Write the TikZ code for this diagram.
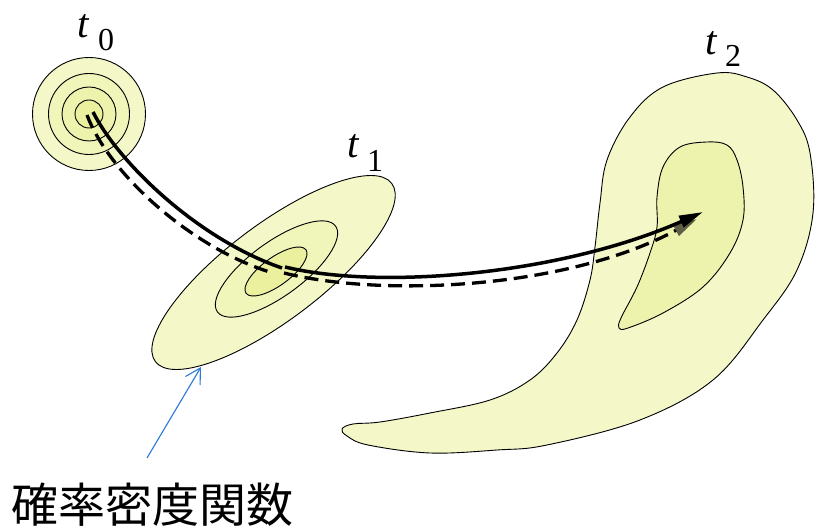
\documentclass[tikz,border=0pt]{standalone}
\usepackage{fontspec}
\setmainfont{Liberation Serif}
\newfontfamily\jpfont{Noto Sans CJK JP}
\usetikzlibrary{arrows.meta}
\definecolor{pdfA}{RGB}{244,247,200}
\definecolor{pdfB}{RGB}{240,245,186}
\definecolor{pdfC}{RGB}{237,243,172}
\definecolor{pdfD}{RGB}{234,240,158}
\definecolor{ptrblue}{RGB}{40,120,215}
\definecolor{shadowgray}{RGB}{95,95,70}
\begin{document}
\begin{tikzpicture}[x=1pt,y=-1pt,
  contour/.style={draw=black, line width=0.9pt},
  tlabel/.style={font=\fontsize{41}{41}\selectfont\itshape, anchor=base, inner sep=0pt},
  tidx/.style={font=\fontsize{32}{32}\selectfont, anchor=base, inner sep=0pt},
  solidpath/.style={line width=3.5pt, black},
  dashpath/.style={line width=3.3pt, black, dash pattern=on 14pt off 7pt},
  pointer/.style={ptrblue, line width=1.1pt, -{Straight Barb[length=15pt,width=17pt,line width=1.1pt]}}]
\useasboundingbox (0,0) rectangle (815,529);

% ---- t0 distribution (concentric circles)
\coordinate (c0) at (89,114);
\draw[contour, fill=pdfA] (c0) circle [radius=56.5pt];
\draw[contour, fill=pdfB] (c0) circle [radius=40.5pt];
\draw[contour, fill=pdfC] (c0) circle [radius=27pt];
\draw[contour, fill=pdfD] (c0) circle [radius=14pt];

% ---- t1 distribution (rotated ellipses)
\coordinate (c1o) at (273.5,272.5);
\coordinate (c1m) at (276.5,269);
\coordinate (c1i) at (276,271.5);
\draw[contour, fill=pdfA, rotate around={37:(c1o)}] (c1o) ellipse [x radius=148pt, y radius=48pt];
\draw[contour, fill=pdfB, rotate around={36:(c1m)}] (c1m) ellipse [x radius=73pt, y radius=27pt];
\draw[contour, fill=pdfD, rotate around={36:(c1i)}] (c1i) ellipse [x radius=37pt, y radius=14pt];

% ---- t2 distribution (deformed blob)
\draw[contour, fill=pdfA] plot[smooth cycle, tension=0.6] coordinates {
  (717,73) (747,77) (773,90) (797,120) (810,153) (813,213) (797,270)
  (763,320) (713,380) (640,420) (547,445) (497,450) (430,453) (368,445)
  (347,436) (342,429) (353,424) (380,422) (430,413) (490,400) (530,380)
  (557,353) (577,320) (590,280) (595,247) (600,203) (607,160) (630,117)
  (663,87)};
\draw[contour, fill=pdfC] plot[smooth cycle, tension=0.6] coordinates {
  (707,142) (727,145) (737,160) (743,187) (743,220) (730,253) (703,287)
  (663,313) (628,328) (619,328) (621,318) (637,287) (650,253) (657,227)
  (657,197) (663,167) (680,147)};

% ---- trajectories
\coordinate (d0) at (87,115);
\coordinate (d1a) at (273,273);
\coordinate (d1b) at (284,273);
\coordinate (d2) at (697,219);
\coordinate (s0) at (93,112);
\coordinate (s1a) at (282,268);
\coordinate (s1b) at (285,267);
\coordinate (s2) at (703,212);

\draw[dashpath] (d0) .. controls (110,176) and (195,250) .. (d1a);
\draw[dashpath, -{Triangle[length=24pt,width=12pt,color=shadowgray,fill=shadowgray]}]
  (d1b) .. controls (380,297) and (565,290) .. (d2);
\draw[solidpath] (s0) .. controls (120,165) and (200,240) .. (s1a);
\draw[solidpath, -{Triangle[length=24pt,width=12pt]}]
  (s1b) .. controls (380,290) and (560,275) .. (s2);

% ---- labels
\node[tlabel] (t0) at (83,38) {t};
\node[tidx] (i0) at (106,51) {0};
\node[tlabel] (t1) at (353,158) {t};
\node[tidx] (i1) at (375,172) {1};
\node[tlabel] (t2) at (711,55) {t};
\node[tidx] (i2) at (733,67) {2};

\node[font=\jpfont\fontsize{47}{47}\selectfont, inner sep=0pt] (pdf) at (153,505) {確率密度関数};
\coordinate (ptrstart) at (147,458);
\coordinate (ptrtip) at (201,367);
\draw[pointer] (ptrstart) -- (ptrtip);
\end{tikzpicture}
\end{document}
